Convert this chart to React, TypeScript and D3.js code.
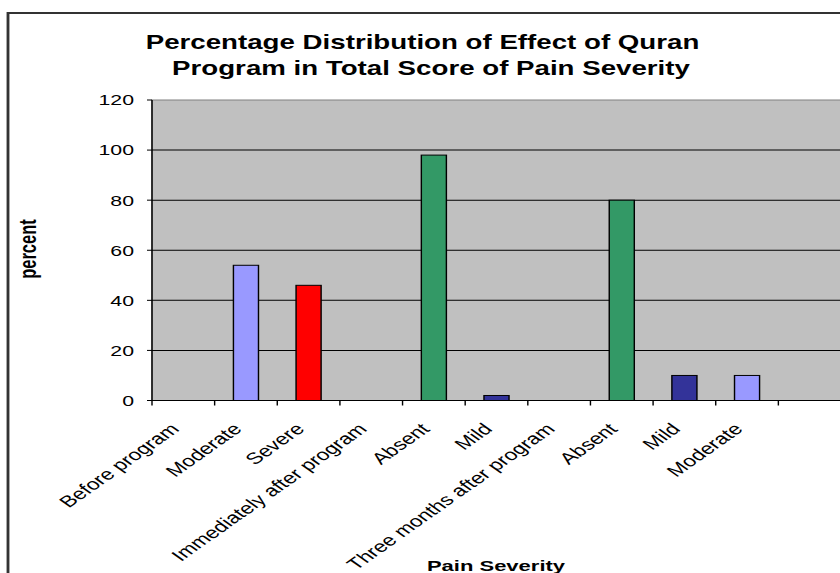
import * as d3 from 'd3'

// Chart data
const CATEGORIES = [
  'Before program',
  'Moderate',
  'Severe',
  'Immediately after  program',
  'Absent',
  'Mild',
  'Three months after program',
  'Absent',
  'Mild',
  'Moderate',
  '',
]
const VALUES: (number | null)[] = [null, 54, 46, null, 98, 2, null, 80, 10, 10, null]
const BAR_COLORS = ['', '#9999FF', '#FF0000', '', '#339966', '#333399', '', '#339966', '#333399', '#9999FF', '']
const Y_TICKS = [0, 20, 40, 60, 80, 100, 120]

const WIDTH = 840
const HEIGHT = 573
// the reference picture is stretched horizontally, so draw in a narrower space and scale it
const SX = 1.42
const FONT = 'Arial, "Liberation Sans", sans-serif'

const App = () => {
  const plotLeft = 152 / SX
  const plotRight = 841 / SX
  const plotTop = 100
  const plotBottom = 400.5

  const x = d3.scaleBand<number>()
    .domain(CATEGORIES.map((_, i) => i))
    .range([plotLeft, plotRight])
    .paddingInner(0)
    .paddingOuter(0)

  const y = d3.scaleLinear().domain([0, 120]).range([plotBottom, plotTop])

  const bw = x.bandwidth()
  const barW = bw * 0.4
  const boundaries = CATEGORIES.map((_, i) => x(i)!).concat([plotRight])

  return (
    <svg
      width={WIDTH}
      height={HEIGHT}
      style={{ position: 'absolute', left: 0, top: 0, background: '#fff' }}
    >
      <g transform={`scale(${SX},1)`} fontFamily={FONT}>
        {/* outer chart frame */}
        <rect x={8 / SX} y={13} width={(WIDTH + 20) / SX} height={HEIGHT} fill="none" stroke="#333" strokeWidth={2} />

        {/* title */}
        <text x={422.5 / SX} y={49} textAnchor="middle" fontSize={19.5} fontWeight="bold">
          Percentage Distribution of Effect of Quran
        </text>
        <text x={431 / SX} y={75} textAnchor="middle" fontSize={19.5} fontWeight="bold">
          Program in Total Score of Pain Severity
        </text>

        {/* plot area */}
        <rect x={plotLeft} y={plotTop} width={plotRight - plotLeft} height={plotBottom - plotTop}
          fill="#C0C0C0" stroke="#808080" strokeWidth={1} />

        {/* gridlines */}
        {Y_TICKS.filter(t => t > 0 && t < 120).map(t => (
          <line key={t} x1={plotLeft} x2={plotRight} y1={y(t)} y2={y(t)} stroke="#000" strokeWidth={1} />
        ))}

        {/* bars */}
        {VALUES.map((v, i) => v == null ? null : (
          <rect key={i}
            x={x(i)! + (bw - barW) / 2}
            y={y(v)}
            width={barW}
            height={y(0) - y(v)}
            fill={BAR_COLORS[i]}
            stroke="#000"
            strokeWidth={1}
          />
        ))}

        {/* y axis */}
        <line x1={plotLeft} x2={plotLeft} y1={plotTop} y2={plotBottom} stroke="#000" strokeWidth={1} />
        {Y_TICKS.map(t => (
          <g key={t}>
            <line x1={plotLeft - 5 / SX} x2={plotLeft} y1={y(t)} y2={y(t)} stroke="#000" />
            <text x={134 / SX} y={y(t)} dy="0.36em" textAnchor="end" fontSize={15} fill="#000">{t}</text>
          </g>
        ))}

        {/* x axis */}
        <line x1={plotLeft} x2={plotRight} y1={plotBottom} y2={plotBottom} stroke="#000" strokeWidth={1} />
        {boundaries.map((b, i) => (
          <line key={i} x1={b} x2={b} y1={plotBottom} y2={plotBottom + 5} stroke="#000" strokeWidth={1} />
        ))}
        {CATEGORIES.map((c, i) => {
          const cx = x(i)! + bw / 2 - 3 / SX
          const cy = 430
          return (
            <text key={i} x={cx} y={cy} textAnchor="end" fontSize={16}
              transform={`rotate(-45, ${cx}, ${cy})`}>{c}</text>
          )
        })}

        {/* axis titles */}
        <text transform={`translate(${36 / SX}, 249) rotate(-90)`} textAnchor="middle" fontSize={16.5} fontWeight="bold">
          percent
        </text>
        <text x={496 / SX} y={571} textAnchor="middle" fontSize={15.5} fontWeight="bold">
          Pain Severity
        </text>
      </g>
    </svg>
  )
}

export default App
